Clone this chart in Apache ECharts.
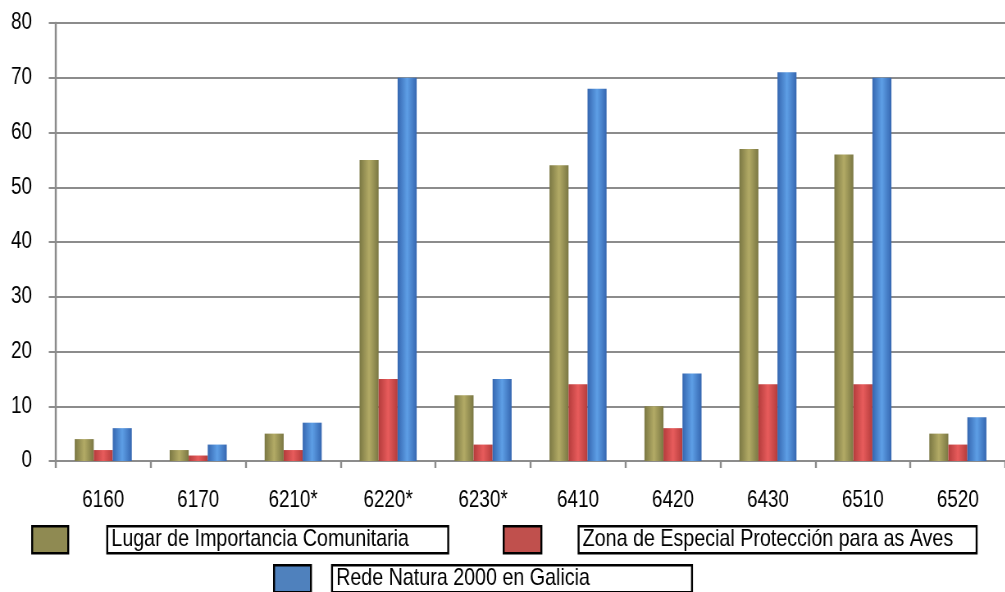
<!DOCTYPE html>
<html>
<head>
<meta charset="utf-8">
<script src="https://cdn.jsdelivr.net/npm/echarts@6/dist/echarts.min.js"></script>
<style>
html,body{margin:0;padding:0;background:#fff;overflow:hidden;width:1005px;height:592px;}
#chart{width:1226px;height:592px;transform:scaleX(0.82);transform-origin:0 0;}
</style>
</head>
<body>
<div id="chart"></div>
<script>
var categories = ['6160','6170','6210*','6220*','6230*','6410','6420','6430','6510','6520'];
var seriesNames = ['Lugar de Importancia Comunitaria','Zona de Especial Protección para as Aves','Rede Natura 2000 en Galicia'];
var lic  = [4, 2, 5, 55, 12, 54, 10, 57, 56, 5];
var zepa = [2, 1, 2, 15, 3, 14, 6, 14, 14, 3];
var rede = [6, 3, 7, 70, 15, 68, 16, 71, 70, 8];
var yTicks = [0,10,20,30,40,50,60,70,80];

// The page is drawn 1226px wide and squeezed horizontally (scaleX 0.82) so that
// Liberation Sans reads like the narrow Arial of the original.
var FONT = "'Liberation Sans',Arial,sans-serif";
var gridColor = '#8c8c8c';

function grad(dark, light){
  return new echarts.graphic.LinearGradient(0,0,1,0,[
    {offset:0,color:dark},{offset:0.5,color:light},{offset:1,color:dark}
  ]);
}
var barColors = [grad('#7a7743','#b3ab66'), grad('#b43c3c','#e85c5c'), grad('#3566b0','#5e9fe6')];
var legendColors = ['#8f8a52','#c0504d','#4f81bd'];

function legendItem(idx, left, top, iconW, spacer, boxW){
  return {
    left: left, top: top, padding: 0,
    orient: 'horizontal',
    itemWidth: iconW, itemHeight: 27,
    icon: 'rect',
    selectedMode: false,
    data: [{name: seriesNames[idx], itemStyle:{color: legendColors[idx], borderColor:'#000', borderWidth:2.4}}],
    formatter: function(name){ return '{s|}{b|' + name + '}'; },
    textStyle: {
      fontFamily: FONT, fontSize: 24, color:'#000',
      rich: {
        s: {width: spacer, height: 25},
        b: {width: boxW, height: 25, lineHeight: 25, fontSize: 24, fontFamily: FONT, color:'#000',
            padding:[1,5,1,5], borderColor:'#000', borderWidth:2.4, align:'left'}
      }
    }
  };
}

var chart = echarts.init(document.getElementById('chart'), null, {renderer:'canvas'});
chart.setOption({
  animation: false,
  backgroundColor: '#fff',
  grid: {left: 68, right: -7, top: 23, bottom: 131, containLabel: false},
  legend: [
    legendItem(0, 38, 525, 44, 42.6, 405.8),
    legendItem(1, 613, 525, 46, 40.4, 475.4),
    legendItem(2, 333, 564, 45, 20.7, 429)
  ],
  xAxis: {
    type: 'category',
    data: categories,
    axisLine: {lineStyle: {color: gridColor, width: 2}},
    axisTick: {show: true, length: 7, lineStyle: {color: gridColor, width: 2.4}},
    axisLabel: {fontFamily: FONT, fontSize: 23, color: '#000', margin: 28}
  },
  yAxis: {
    type: 'value',
    min: yTicks[0], max: yTicks[yTicks.length-1], interval: 10,
    axisLine: {show: true, lineStyle: {color: gridColor, width: 2.4}},
    axisTick: {show: true, length: 8.5, lineStyle: {color: gridColor, width: 2}},
    splitLine: {show: true, lineStyle: {color: gridColor, width: 2}},
    axisLabel: {fontFamily: FONT, fontSize: 23, color: '#000', margin: 29}
  },
  series: [
    {name: seriesNames[0], type:'bar', data: lic,  barWidth: 23.2, barGap: '0%', itemStyle:{color: barColors[0]}},
    {name: seriesNames[1], type:'bar', data: zepa, barWidth: 23.2, barGap: '0%', itemStyle:{color: barColors[1]}},
    {name: seriesNames[2], type:'bar', data: rede, barWidth: 23.2, barGap: '0%', itemStyle:{color: barColors[2]}}
  ]
});
</script>
</body>
</html>
